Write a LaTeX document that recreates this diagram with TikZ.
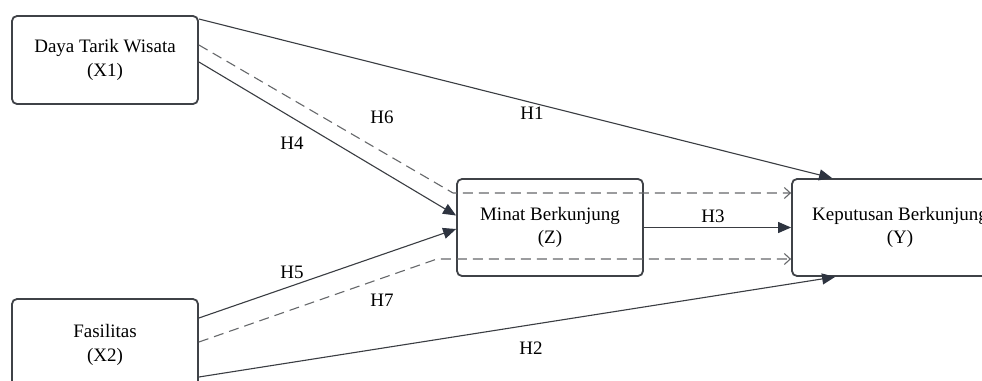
\documentclass[tikz,border=0pt]{standalone}
\usepackage{fontspec}
\setmainfont{Liberation Serif}
\usetikzlibrary{arrows.meta}
\definecolor{boxline}{HTML}{3F4247}
\definecolor{solidline}{HTML}{3A3D42}
\definecolor{headcol}{HTML}{2E3440}
\definecolor{dashcol}{HTML}{66686B}
\begin{document}
\begin{tikzpicture}[x=1pt,y=-1pt,
  varbox/.style={draw=boxline,line width=1.8pt,rounded corners=5pt,fill=white,
    align=center,font=\fontsize{19}{23.5}\selectfont,inner sep=0pt},
  solidarrow/.style={draw=solidline,line width=1.1pt,
    -{Triangle[length=13pt,width=11pt,fill=headcol,color=headcol]}},
  dasharrow/.style={draw=dashcol,line width=1.1pt,dash pattern=on 10pt off 6pt,
    -{Straight Barb[length=6pt,width=11pt,line width=1.1pt]}},
  hlabel/.style={font=\fontsize{19}{23}\selectfont,inner sep=1pt,text=black}]
\useasboundingbox (0,0) rectangle (982,380);
\clip (0,0) rectangle (982,380);
\fill[white] (0,0) rectangle (982,380);

\node[varbox,minimum width=186pt,minimum height=88pt] (x1) at (105,60) {Daya Tarik Wisata\\(X1)};
\node[varbox,minimum width=186pt,minimum height=92pt] (x2) at (105,345) {Fasilitas\\(X2)};
\node[varbox,minimum width=186pt,minimum height=97pt] (z) at (550,227.5) {Minat Berkunjung\\(Z)};
\node[varbox,minimum width=216pt,minimum height=97pt] (y) at (900,227.5) {Keputusan Berkunjung\\(Y)};

\coordinate (h6bend) at (453,193);
\coordinate (h7bend) at (437,259);

% H1
\draw[solidarrow] ([yshift=41pt]x1.east) -- ([xshift=41pt]y.north west);
% H6 (dashed)
\draw[dasharrow] ([yshift=15pt]x1.east) -- (h6bend) -- ([yshift=34.5pt]y.west);
% H4
\draw[solidarrow] ([yshift=-2pt]x1.east) -- ([yshift=12pt]z.west);
% H5
\draw[solidarrow] ([yshift=27pt]x2.east) -- ([yshift=-1.5pt]z.west);
% H7 (dashed)
\draw[dasharrow] ([yshift=3pt]x2.east) -- (h7bend) -- ([yshift=-31.5pt]y.west);
% H3
\draw[solidarrow] (z.east) -- (y.west);
% H2
\draw[solidarrow] ([yshift=-32pt]x2.east) -- ([xshift=44pt]y.south west);

\node[hlabel] (lh1) at (532,113) {H1};
\node[hlabel] (lh6) at (382,117) {H6};
\node[hlabel] (lh4) at (292,143) {H4};
\node[hlabel] (lh5) at (292,272) {H5};
\node[hlabel] (lh7) at (382,300) {H7};
\node[hlabel] (lh2) at (531,348) {H2};
\node[hlabel] (lh3) at (713,216) {H3};
\end{tikzpicture}
\end{document}
